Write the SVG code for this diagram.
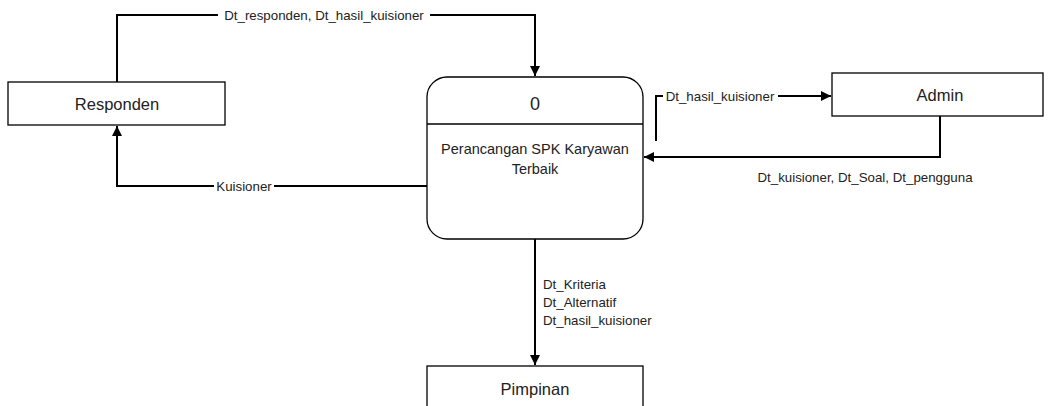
<svg xmlns="http://www.w3.org/2000/svg" width="1048" height="406" viewBox="0 0 1048 406">
  <defs>
    <marker id="arrow" viewBox="0 0 10 10" refX="10" refY="5" markerWidth="10" markerHeight="10" markerUnits="userSpaceOnUse" orient="auto">
      <path d="M0,0 L10,5 L0,10 Z" fill="#000"/>
    </marker>
    <style>
      .box { fill: #fff; stroke: #000; stroke-width: 1.3; }
      .edge { fill: none; stroke: #000; stroke-width: 2; }
      .lbl-bg { fill: #fff; }
      text { font-family: "Liberation Sans", Arial, sans-serif; fill: #222; }
      .name { font-size: 16.5px; text-anchor: middle; }
      .lbl { font-size: 13.3px; }
    </style>
  </defs>
  <rect width="1048" height="406" fill="#fff"/>

  <!-- data flows -->
  <g id="connectors">
    <!-- Responden -> process -->
    <path class="edge" d="M117,82 V15 H535 V76" marker-end="url(#arrow)"/>
    <rect class="lbl-bg" x="218" y="7" width="212" height="16"/>
    <text class="lbl" x="324" y="20" text-anchor="middle">Dt_responden, Dt_hasil_kuisioner</text>

    <!-- process -> Responden -->
    <path class="edge" d="M427,186 H117 V126" marker-end="url(#arrow)"/>
    <rect class="lbl-bg" x="214" y="178" width="60" height="16"/>
    <text class="lbl" x="244" y="191" text-anchor="middle">Kuisioner</text>

    <!-- process -> Admin -->
    <path class="edge" d="M656,141 V96 H831" marker-end="url(#arrow)"/>
    <rect class="lbl-bg" x="663" y="88" width="115" height="16"/>
    <text class="lbl" x="720" y="101" text-anchor="middle">Dt_hasil_kuisioner</text>

    <!-- Admin -> process -->
    <path class="edge" d="M940,116 V157 H644" marker-end="url(#arrow)"/>
    <text class="lbl" x="865" y="182" text-anchor="middle">Dt_kuisioner, Dt_Soal, Dt_pengguna</text>

    <!-- process -> Pimpinan -->
    <path class="edge" d="M535,239 V365" marker-end="url(#arrow)"/>
    <text class="lbl" x="543" y="289">Dt_Kriteria</text>
    <text class="lbl" x="543" y="307">Dt_Alternatif</text>
    <text class="lbl" x="543" y="325">Dt_hasil_kuisioner</text>
  </g>

  <g id="responden">
    <rect class="box" x="8" y="82" width="217" height="43"/>
    <text class="name" x="117" y="110">Responden</text>
  </g>

  <g id="process-0">
    <rect class="box" x="427" y="77" width="216" height="162" rx="20" ry="20"/>
    <line x1="427" y1="124" x2="643" y2="124" stroke="#000" stroke-width="1.3"/>
    <text class="name" x="535" y="110" style="font-size:18px">0</text>
    <text class="name" x="535" y="154" style="font-size:14.5px">Perancangan SPK Karyawan</text>
    <text class="name" x="535" y="174" style="font-size:14.5px">Terbaik</text>
  </g>

  <g id="admin">
    <rect class="box" x="832" y="73" width="211" height="43"/>
    <text class="name" x="940" y="101">Admin</text>
  </g>

  <g id="pimpinan">
    <rect class="box" x="427" y="366" width="216" height="50"/>
    <text class="name" x="535" y="395">Pimpinan</text>
  </g>
</svg>
